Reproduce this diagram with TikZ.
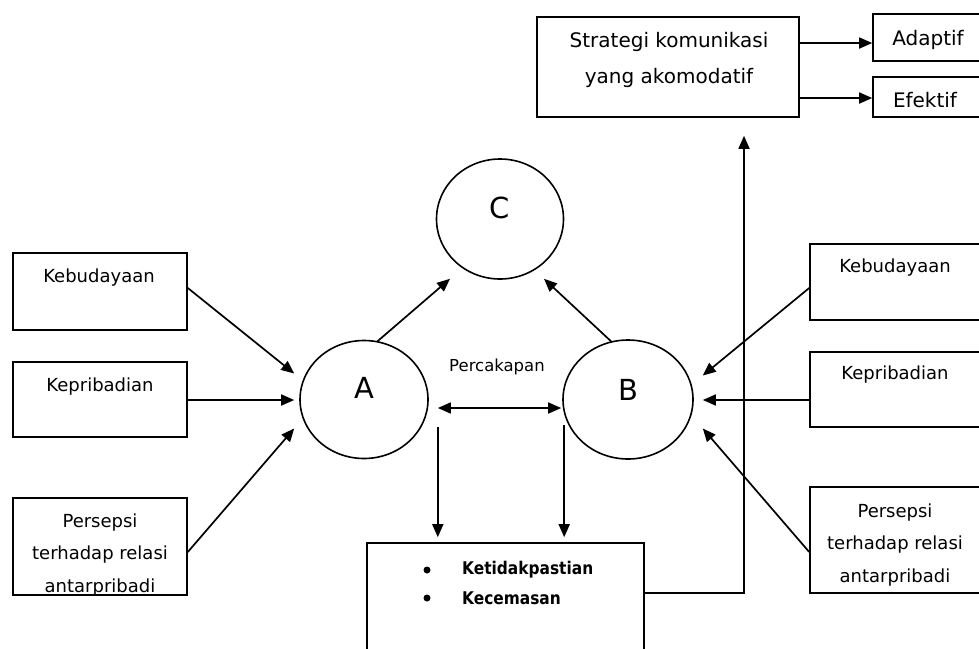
\documentclass[tikz,border=0pt]{standalone}
\usepackage{fontspec}
\setmainfont{DejaVu Sans}
\newfontfamily\condfont[FakeStretch=0.88]{DejaVu Sans}
\usetikzlibrary{arrows.meta,calc,shapes.geometric}
\begin{document}
\begin{tikzpicture}[x=1pt,y=-1pt,
  box/.style={draw,line width=1.6pt,rectangle,inner sep=0pt},
  oval/.style={draw,line width=1.6pt,ellipse,inner sep=0pt},
  arr/.style={line width=1.7pt,-{Triangle[length=13pt,width=11pt]}},
  darr/.style={line width=1.7pt,{Triangle[length=13pt,width=11pt]}-{Triangle[length=13pt,width=11pt]}},
  side/.style={font=\fontsize{18}{32.5}\selectfont,align=center,inner sep=0pt},
  big/.style={font=\fontsize{20}{36}\selectfont,align=center,inner sep=0pt},
  letter/.style={font=\fontsize{29}{30}\selectfont,inner sep=0pt},
  bold/.style={font=\condfont\fontsize{17.5}{18}\selectfont\bfseries,inner sep=0pt},
  dot/.style={circle,fill,inner sep=0pt,minimum size=7pt}]
\clip (0,0) rectangle (979,648);
\fill[white] (0,0) rectangle (979,648);

% boxes
\node[box,minimum width=262pt,minimum height=100pt] (strat) at (668,67) {};
\node[box,minimum width=127pt,minimum height=47pt] (adapt) at (936.5,37.5) {};
\node[box,minimum width=127pt,minimum height=40pt] (efek) at (936.5,97) {};
\node[box,minimum width=277pt,minimum height=147pt] (bottom) at (505.5,616.5) {};
\node[box,minimum width=174pt,minimum height=77pt] (LK) at (100,291.5) {};
\node[box,minimum width=174pt,minimum height=75pt] (LP) at (100,399.5) {};
\node[box,minimum width=174pt,minimum height=97pt] (LS) at (100,546.5) {};
\node[box,minimum width=190pt,minimum height=76pt] (RK) at (905,282) {};
\node[box,minimum width=190pt,minimum height=75pt] (RP) at (905,389.5) {};
\node[box,minimum width=190pt,minimum height=106pt] (RS) at (905,540) {};

% ellipses
\node[oval,minimum width=127pt,minimum height=120pt] (C) at (500,219) {};
\node[oval,minimum width=128pt,minimum height=118pt] (A) at (364,399.5) {};
\node[oval,minimum width=130pt,minimum height=119pt] (B) at (628,399.5) {};

% texts
\node[big] (strat-t) at (669,60) {Strategi komunikasi\\yang akomodatif};
\node[big] (adapt-t) at (928,40) {Adaptif};
\node[big] (efek-t) at (925,100) {Efektif};
\node[letter] (C-t) at (500,208) {C};
\node[letter] (A-t) at (364,388) {A};
\node[letter] (B-t) at (628,390) {B};
\node[font=\fontsize{16.5}{20}\selectfont,inner sep=0pt] (perc) at (497,367) {Percakapan};
\node[side] (LK-t) at (99,278) {Kebudayaan};
\node[side] (LP-t) at (100,387) {Kepribadian};
\node[side] (LS-t) at (100,555) {Persepsi\\terhadap relasi\\antarpribadi};
\node[side] (RK-t) at (895,268) {Kebudayaan};
\node[side] (RP-t) at (895,375) {Kepribadian};
\node[side] (RS-t) at (895,545) {Persepsi\\terhadap relasi\\antarpribadi};
\node[dot] (b1) at (427,570) {};
\node[dot] (b2) at (427,598) {};
\node[bold,anchor=west] (k1) at (462,570) {Ketidakpastian};
\node[bold,anchor=west] (k2) at (462,598) {Kecemasan};

% connectors: left boxes to A
\draw[arr] ($(LK.east)+(0,-3.5)$) -- ($(A.west)+(-5,-26)$);
\draw[arr] ($(LP.east)+(0,0.5)$) -- ($(A.west)+(-5,0.5)$);
\draw[arr] ($(LS.east)+(0,5.5)$) -- ($(A.west)+(-5,29)$);
% right boxes to B
\draw[arr] ($(RK.west)+(0,6)$) -- ($(B.east)+(9,-24)$);
\draw[arr] ($(RP.west)+(0,10.5)$) -- ($(B.east)+(9,0.5)$);
\draw[arr] ($(RS.west)+(0,12)$) -- ($(B.east)+(9,29)$);
% A, B to C
\draw[arr] ($(A.north)+(13,2)$) -- ($(C.south)+(-50,-1)$);
\draw[arr] ($(B.north)+(-16,3)$) -- ($(C.south)+(44,-1)$);
% conversation
\draw[darr] ($(A.east)+(9,8.5)$) -- ($(B.west)+(-1,8.5)$);
% down to bottom box
\coordinate (ad) at ($(A.east)+(9,27.5)$);
\coordinate (bd) at ($(B.west)+(2,25.5)$);
\coordinate (bt) at ($(bottom.north)+(0,-5)$);
\draw[arr] (ad) -- (ad |- bt);
\draw[arr] (bd) -- (bd |- bt);
% bottom box up to strategy
\coordinate (bs) at ($(bottom.east)+(0,-23.5)$);
\coordinate (st) at ($(strat.south)+(76,18)$);
\draw[arr] (bs) -| (st);
% strategy to outcomes
\coordinate (sa) at ($(strat.east)+(0,-24)$);
\coordinate (se) at ($(strat.east)+(0,31)$);
\draw[arr] (sa) -- (sa -| adapt.west);
\draw[arr] (se) -- (se -| efek.west);
\end{tikzpicture}
\end{document}
